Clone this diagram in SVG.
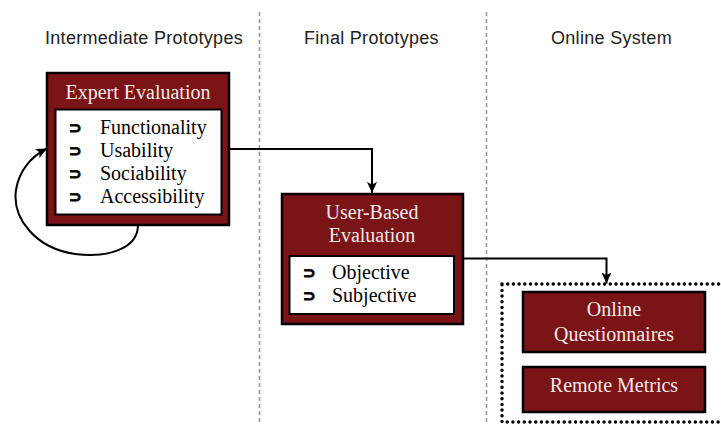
<svg xmlns="http://www.w3.org/2000/svg" width="721" height="424" viewBox="0 0 721 424">
<style>
.hdr{font-family:"Liberation Sans",Arial,sans-serif;font-size:18px;letter-spacing:0.3px;fill:#222}
.box{fill:#7a1416;stroke:#000;stroke-width:2.5}
.inner{fill:#fff;stroke:#000;stroke-width:2}
.ttl{font-family:"Liberation Serif","Times New Roman",serif;font-size:20px;fill:#f5e8e8;text-anchor:middle}
.item{font-family:"Liberation Serif","Times New Roman",serif;font-size:20px;fill:#000}
.bul{font-family:"DejaVu Sans",sans-serif;font-weight:bold;font-size:15px;fill:#000;stroke:#000;stroke-width:0.9}
.lane{stroke:#9a9a9a;stroke-width:1.6;stroke-dasharray:4 3;fill:none}
.conn{stroke:#000;stroke-width:2;fill:none}
</style>
<defs>
<marker id="arr" markerUnits="userSpaceOnUse" markerWidth="12" markerHeight="12" viewBox="0 0 12 12" refX="11" refY="6" orient="auto">
<path d="M0,1 L11,6 L0,11 L2.5,6 Z" fill="#000"/>
</marker>
</defs>
<g id="lanes">
<line class="lane" x1="259.5" y1="12" x2="259.5" y2="424"/>
<line class="lane" x1="486.5" y1="12" x2="486.5" y2="424"/>
<text class="hdr" x="45" y="44">Intermediate Prototypes</text>
<text class="hdr" x="304" y="44">Final Prototypes</text>
<text class="hdr" x="551" y="44">Online System</text>
</g>
<g id="connectors">
<path class="conn" d="M229,149 H372 V193" marker-end="url(#arr)"/>
<path class="conn" d="M463,258.5 H606.5 V283.5" marker-end="url(#arr)"/>
<path class="conn" d="M138,225 C138,250 105,258 75,254 C35,248 12,218 16,190 C19,170 32,156 47,148.5" marker-end="url(#arr)"/>
</g>
<g id="expert-evaluation">
<rect class="box" x="47" y="73" width="182" height="152"/>
<text class="ttl" x="138" y="99">Expert Evaluation</text>
<rect class="inner" x="55.5" y="109.5" width="166" height="105"/>
<text class="bul" x="69" y="133">⊃</text>
<text class="item" x="100" y="134">Functionality</text>
<text class="bul" x="69" y="156">⊃</text>
<text class="item" x="100" y="157">Usability</text>
<text class="bul" x="69" y="179">⊃</text>
<text class="item" x="100" y="180">Sociability</text>
<text class="bul" x="69" y="202">⊃</text>
<text class="item" x="100" y="203">Accessibility</text>
</g>
<g id="user-based-evaluation">
<rect class="box" x="282" y="194" width="181" height="130"/>
<text class="ttl" x="372" y="219">User-Based</text>
<text class="ttl" x="372" y="242">Evaluation</text>
<rect class="inner" x="289.5" y="256" width="164.5" height="58"/>
<text class="bul" x="303" y="278">⊃</text>
<text class="item" x="332" y="279">Objective</text>
<text class="bul" x="303" y="301">⊃</text>
<text class="item" x="332" y="302">Subjective</text>
</g>
<g id="online-system">
<rect x="502" y="284" width="230" height="138" fill="none" stroke="#000" stroke-width="3.5" stroke-linecap="round" stroke-dasharray="0 5.7"/>
</g>
<g id="online-questionnaires">
<rect class="box" x="523" y="292" width="182" height="60"/>
<text class="ttl" x="614" y="316">Online</text>
<text class="ttl" x="614" y="341">Questionnaires</text>
</g>
<g id="remote-metrics">
<rect class="box" x="523" y="367" width="182" height="45"/>
<text class="ttl" x="614" y="392">Remote Metrics</text>
</g>
</svg>
